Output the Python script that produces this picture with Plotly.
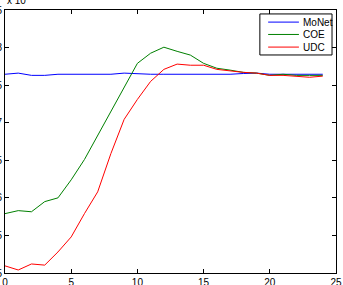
import plotly.graph_objects as go

x_vals = list(range(25))
monet = [7.645, 7.66, 7.63, 7.63, 7.645, 7.645, 7.645, 7.645, 7.645, 7.66, 7.65, 7.645,
         7.645, 7.645, 7.64, 7.64, 7.64, 7.645, 7.655, 7.66, 7.645, 7.645, 7.64, 7.64, 7.645]
coe = [5.79, 5.83, 5.815, 5.95, 6.0, 6.24, 6.51, 6.83, 7.15, 7.485, 7.79, 7.925,
       8.005, 7.95, 7.90, 7.79, 7.725, 7.70, 7.67, 7.66, 7.63, 7.645, 7.63, 7.63, 7.63]
udc = [5.095, 5.04, 5.12, 5.105, 5.28, 5.48, 5.79, 6.08, 6.59, 7.045, 7.31, 7.55,
       7.71, 7.78, 7.765, 7.765, 7.71, 7.685, 7.67, 7.66, 7.63, 7.63, 7.62, 7.605, 7.62]

series_names = ["MoNet", "COE", "UDC"]
series_colors = ["#0000ff", "#008000", "#ff0000"]
x_ticks = [0, 5, 10, 15, 20, 25]
y_ticks = [5, 5.5, 6, 6.5, 7, 7.5, 8, 8.5]
y_tick_labels = ["5", "5.5", "6", "6.5", "7", "7.5", "8", "8.5"]

FONT = "Liberation Sans, Arial"

fig = go.Figure()
for name, ys, col in zip(series_names, [monet, coe, udc], series_colors):
    fig.add_trace(go.Scatter(x=x_vals, y=ys, mode="lines", name=name,
                             line=dict(color=col, width=1), showlegend=False))

axis_common = dict(showgrid=False, zeroline=False, showline=True, linecolor="#000000",
                   linewidth=1, mirror="ticks", ticks="inside", ticklen=4,
                   tickcolor="#000000", automargin=False,
                   tickfont=dict(family=FONT, size=10, color="#000000"))

# custom legend (paper coordinates)
shapes = [dict(type="rect", xref="paper", yref="paper", x0=0.770, x1=0.988, y0=0.829, y1=0.985,
               line=dict(color="#000000", width=1), fillcolor="white", layer="above")]
annotations = []
row_y = [0.954, 0.907, 0.859]
for name, col, yy in zip(series_names, series_colors, row_y):
    shapes.append(dict(type="line", xref="paper", yref="paper", x0=0.795, x1=0.888, y0=yy, y1=yy,
                       line=dict(color=col, width=1), layer="above"))
    annotations.append(dict(x=0.893, y=yy, xref="paper", yref="paper", xanchor="left", yanchor="middle",
                            text=name, showarrow=False,
                            font=dict(family=FONT, size=10, color="#000000")))

annotations.append(dict(x=0, y=1, xref="paper", yref="paper", xanchor="left", yanchor="bottom",
                        text="x 10<sup>-3</sup>", showarrow=False, xshift=0, yshift=2,
                        font=dict(family=FONT, size=10, color="#000000")))

fig.update_layout(
    width=343, height=285,
    margin=dict(l=5, r=7, t=10, b=12, autoexpand=False),
    plot_bgcolor="white", paper_bgcolor="white",
    xaxis=dict(range=[0, 25], tickvals=x_ticks, ticktext=[str(t) for t in x_ticks], **axis_common),
    yaxis=dict(range=[5, 8.5], tickvals=y_ticks, ticktext=y_tick_labels, **axis_common),
    showlegend=False,
    shapes=shapes,
    annotations=annotations,
)

fig.write_html("out.html")
